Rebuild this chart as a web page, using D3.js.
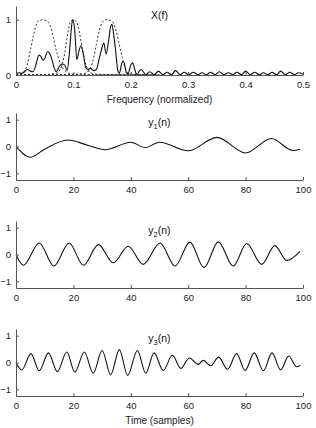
<!DOCTYPE html>
<html>
<head>
<meta charset="utf-8">
<script src="https://cdn.jsdelivr.net/npm/d3@7"></script>
<style>
  body { margin: 0; background: #fff; }
  svg { display: block; font-family: "Liberation Sans", Arial, sans-serif; }
  .axis path, .axis line { stroke: #555; }
  .axis text { fill: #222; font-size: 9.5px; }
</style>
</head>
<body>
<div id="chart"></div>
<script>
// spectrum |X(f)| (solid)
let spectrum = [
  [0, 0.03], [0.005, 0.04], [0.01, 0.03], [0.015, 0.06], [0.02, 0.1], [0.025, 0.07],
  [0.03, 0.06], [0.035, 0.2], [0.04, 0.36], [0.043, 0.34], [0.047, 0.27], [0.05, 0.3],
  [0.055, 0.42], [0.058, 0.4], [0.062, 0.3], [0.066, 0.15], [0.07, 0.06], [0.075, 0.15],
  [0.08, 0.2], [0.085, 0.18], [0.089, 0.08], [0.093, 0.4], [0.097, 0.9], [0.099, 1.0],
  [0.102, 0.85], [0.106, 0.28], [0.11, 0.45], [0.113, 0.53], [0.117, 0.4], [0.121, 0.15],
  [0.125, 0.1], [0.13, 0.12], [0.135, 0.08], [0.14, 0.1], [0.145, 0.3], [0.15, 0.5],
  [0.153, 0.58], [0.157, 0.38], [0.161, 0.6], [0.165, 0.88], [0.167, 0.92], [0.17, 0.75],
  [0.174, 0.4], [0.177, 0.1], [0.18, 0.03], [0.184, 0.2], [0.186, 0.25], [0.189, 0.2],
  [0.192, 0.05], [0.195, 0.02], [0.2, 0.18], [0.203, 0.22], [0.207, 0.1], [0.21, 0.01],
  [0.218, 0.1], [0.226, 0.01], [0.233, 0.06], [0.241, 0.005], [0.248, 0.07], [0.256, 0.005],
  [0.263, 0.05], [0.271, 0.005], [0.278, 0.08], [0.286, 0.005], [0.293, 0.05], [0.301, 0.005],
  [0.309, 0.05], [0.317, 0.005], [0.324, 0.04], [0.332, 0.005], [0.339, 0.05], [0.347, 0.005],
  [0.354, 0.06], [0.362, 0.005], [0.37, 0.04], [0.378, 0.005], [0.385, 0.05], [0.393, 0.005],
  [0.4, 0.07], [0.408, 0.005], [0.416, 0.05], [0.424, 0.005], [0.431, 0.04], [0.439, 0.005],
  [0.446, 0.05], [0.454, 0.005], [0.461, 0.07], [0.469, 0.005], [0.477, 0.05], [0.485, 0.005],
  [0.492, 0.04], [0.5, 0.02]
];

// the three band filters (dashed)
let filter1 = [
  [0, 0.02], [0.01, 0.03], [0.015, 0.08], [0.02, 0.2], [0.025, 0.45], [0.03, 0.7],
  [0.035, 0.9], [0.04, 0.99], [0.047, 1.0], [0.054, 0.98], [0.06, 0.88], [0.065, 0.68],
  [0.07, 0.45], [0.075, 0.28], [0.08, 0.15], [0.085, 0.08], [0.09, 0.04], [0.1, 0.015],
  [0.13, 0.01], [0.2, 0.005], [0.25, 0]
];
let filter2 = [
  [0, 0.01], [0.05, 0.01], [0.07, 0.03], [0.077, 0.1], [0.085, 0.4], [0.09, 0.75],
  [0.095, 0.97], [0.1, 1.0], [0.105, 0.97], [0.11, 0.8], [0.115, 0.5], [0.12, 0.25],
  [0.125, 0.1], [0.13, 0.04], [0.14, 0.015], [0.2, 0.005], [0.25, 0]
];
let filter3 = [
  [0, 0.01], [0.1, 0.01], [0.12, 0.03], [0.127, 0.08], [0.135, 0.3], [0.14, 0.55],
  [0.145, 0.8], [0.15, 0.95], [0.156, 1.0], [0.165, 0.99], [0.17, 0.93], [0.175, 0.78],
  [0.18, 0.55], [0.185, 0.32], [0.19, 0.13], [0.196, 0.03], [0.21, 0.01], [0.25, 0]
];

// time signals: [sample, value] at the turning points
let y1 = [
  [0, 0], [5, -0.4], [10, -0.1], [18, 0.24], [25, 0.05], [31, -0.12], [40, 0.16],
  [45, -0.04], [50, 0.16], [60, -0.16], [70, 0.34], [80, -0.24], [89, 0.3],
  [96.5, -0.15], [99, -0.1]
];
let y2 = [
  [0, 0], [2.6, -0.4], [8.1, 0.43], [13.2, -0.43], [18.5, 0.43], [23.5, -0.4],
  [28.7, 0.37], [33.9, -0.31], [39.1, 0.31], [44.3, -0.37], [50.2, 0.43], [55.4, -0.43],
  [60.6, 0.46], [65.5, -0.49], [70.5, 0.47], [75.7, -0.43], [80.4, 0.41], [85.6, -0.37],
  [90.2, 0.33], [94.3, -0.22], [99, 0.12]
];
let y3 = [
  [0, 0], [2, -0.28], [5.2, 0.33], [8.1, -0.31], [11.3, 0.36], [14.4, -0.34],
  [17.7, 0.39], [20.5, -0.36], [23.8, 0.39], [26.9, -0.4], [30, 0.45], [33, -0.46],
  [36, 0.48], [38.9, -0.48], [42.3, 0.45], [45.2, -0.4], [48.1, 0.36], [51.3, -0.3],
  [54.5, 0.27], [57.4, -0.22], [60.4, 0.17], [63.5, -0.07], [65.3, 0.08], [67.8, -0.12],
  [70.6, 0.2], [73.7, -0.25], [76.9, 0.33], [79.8, -0.3], [83, 0.36], [86.2, -0.31],
  [89.2, 0.36], [92.2, -0.28], [95, 0.24], [97.8, -0.16], [99, -0.1]
];

let freqTicks = [0, 0.1, 0.2, 0.3, 0.4, 0.5];
let timeTicks = [0, 20, 40, 60, 80, 100];

let width = 316;
let height = 428;
let left = 16, right = 303;

let svg = d3.select('#chart')
  .append('svg')
  .attr('width', width)
  .attr('height', height);

let panels = [
  { top: 6, bottom: 75, xDomain: [0, 0.5], xTicks: freqTicks, yDomain: [0, 1.25], yTicks: [0, 1],
    solid: [spectrum], dashed: [filter1, filter2, filter3], title: ['X(f)'], xlabel: 'Frequency (normalized)' },
  { top: 113, bottom: 180, xDomain: [0, 100], xTicks: timeTicks, yDomain: [-1.25, 1.25], yTicks: [-1, 0, 1],
    solid: [y1], dashed: [], title: ['y', '1', '(n)'] },
  { top: 221, bottom: 288, xDomain: [0, 100], xTicks: timeTicks, yDomain: [-1.25, 1.25], yTicks: [-1, 0, 1],
    solid: [y2], dashed: [], title: ['y', '2', '(n)'] },
  { top: 329, bottom: 396, xDomain: [0, 100], xTicks: timeTicks, yDomain: [-1.25, 1.25], yTicks: [-1, 0, 1],
    solid: [y3], dashed: [], title: ['y', '3', '(n)'], xlabel: 'Time (samples)' }
];

panels.forEach((p) => {
  let x = d3.scaleLinear().domain(p.xDomain).range([left, right]);
  let y = d3.scaleLinear().domain(p.yDomain).range([p.bottom, p.top]);

  let line = d3.line()
    .x((d) => x(d[0]))
    .y((d) => y(d[1]))
    .curve(d3.curveMonotoneX);

  p.dashed.forEach((s) => {
    svg.append('path')
      .attr('d', line(s))
      .attr('fill', 'none')
      .attr('stroke', '#333')
      .attr('stroke-width', 1)
      .attr('stroke-dasharray', '2,2');
  });

  p.solid.forEach((s) => {
    svg.append('path')
      .attr('d', line(s))
      .attr('fill', 'none')
      .attr('stroke', '#111')
      .attr('stroke-width', 1.1);
  });

  svg.append('g')
    .attr('class', 'axis')
    .attr('transform', `translate(0,${p.bottom})`)
    .call(d3.axisBottom(x).tickValues(p.xTicks).tickFormat(d3.format('~g'))
      .tickSizeInner(-3).tickSizeOuter(0).tickPadding(6));

  svg.append('g')
    .attr('class', 'axis')
    .attr('transform', `translate(${left},0)`)
    .call(d3.axisLeft(y).tickValues(p.yTicks).tickFormat(d3.format('~g'))
      .tickSizeInner(-3).tickSizeOuter(0).tickPadding(5));

  let t = svg.append('text')
    .attr('x', (left + right) / 2)
    .attr('y', p.top + 13)
    .attr('text-anchor', 'middle')
    .attr('font-size', 10.5)
    .attr('fill', '#111');
  t.append('tspan').text(p.title[0]);
  if (p.title.length > 1) {
    t.append('tspan').attr('font-size', 7.5).attr('dy', 3).text(p.title[1]);
    t.append('tspan').attr('dy', -3).text(p.title[2]);
  }

  if (p.xlabel) {
    svg.append('text')
      .attr('x', (left + right) / 2)
      .attr('y', p.bottom + 28)
      .attr('text-anchor', 'middle')
      .attr('font-size', 10)
      .attr('fill', '#222')
      .text(p.xlabel);
  }
});
</script>
</body>
</html>
